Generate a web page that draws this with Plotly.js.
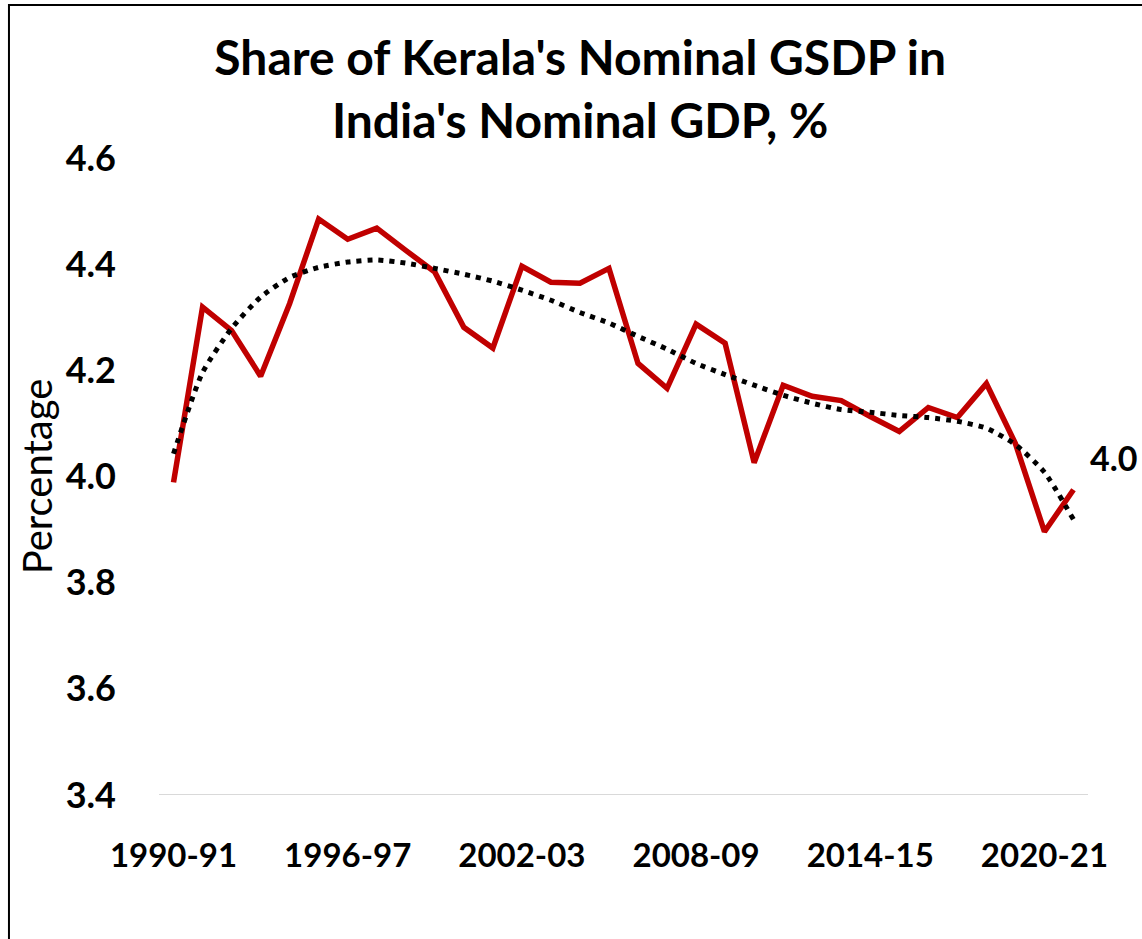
<!DOCTYPE html>
<html>
<head>
<meta charset="utf-8">
<script src="https://cdn.plot.ly/plotly-3.0.1.min.js"></script>
<style>
html,body{margin:0;padding:0;background:#fff;}
#chart{width:1142px;height:939px;}
</style>
</head>
<body>
<div id="chart"></div>
<script>
const years = ["1990-91","1991-92","1992-93","1993-94","1994-95","1995-96","1996-97","1997-98",
  "1998-99","1999-00","2000-01","2001-02","2002-03","2003-04","2004-05","2005-06",
  "2006-07","2007-08","2008-09","2009-10","2010-11","2011-12","2012-13","2013-14",
  "2014-15","2015-16","2016-17","2017-18","2018-19","2019-20","2020-21","2021-22"];
const share = [3.989,4.319,4.275,4.189,4.326,4.485,4.447,4.468,
  4.426,4.385,4.281,4.242,4.396,4.366,4.364,4.392,
  4.213,4.166,4.287,4.251,4.026,4.172,4.151,4.143,
  4.113,4.085,4.130,4.111,4.175,4.062,3.896,3.975];
const trend = [4.043,4.196,4.279,4.338,4.375,4.394,4.404,4.408,
  4.402,4.392,4.381,4.368,4.351,4.332,4.309,4.289,
  4.264,4.240,4.213,4.192,4.172,4.153,4.138,4.126,
  4.121,4.115,4.111,4.104,4.091,4.060,4.008,3.919];
const xTickLabels = ["1990-91","1996-97","2002-03","2008-09","2014-15","2020-21"];
const yTicks = [3.4,3.6,3.8,4.0,4.2,4.4,4.6];
const lastLabel = "4.0";

const FONT = "Lato, 'Open Sans', sans-serif";

const traces = [
  {
    x: years, y: share, type: "scatter", mode: "lines",
    line: {color: "#C00000", width: 5.5},
    hoverinfo: "x+y", showlegend: false
  },
  {
    x: years, y: trend, type: "scatter", mode: "lines",
    line: {color: "#000000", width: 5, dash: "5px,6px", shape: "spline", smoothing: 0.6},
    hoverinfo: "skip", showlegend: false
  }
];

const layout = {
  width: 1142, height: 939,
  paper_bgcolor: "#fff", plot_bgcolor: "#fff",
  margin: {l: 159, r: 54, t: 158, b: 144},
  font: {family: FONT, color: "#000"},
  title: {
    text: "<b>Share of Kerala's Nominal GSDP in<br>India's Nominal GDP, %</b>",
    font: {family: FONT, size: 48, color: "#000"},
    xref: "container", x: 0.508, xanchor: "center",
    yref: "container", y: 0.92, yanchor: "top"
  },
  xaxis: {
    type: "category",
    categoryorder: "array", categoryarray: years,
    range: [-0.5, 31.5],
    tickmode: "array", tickvals: xTickLabels, ticktext: xTickLabels.map(t => "<b>" + t + "</b>"),
    tickfont: {family: FONT, size: 33, color: "#000"},
    showgrid: false, zeroline: false, showline: false, ticks: "",
    ticklabelstandoff: 38
  },
  yaxis: {
    range: [3.4, 4.6],
    tickmode: "array", tickvals: yTicks, ticktext: yTicks.map(v => "<b>" + v.toFixed(1) + "</b>"),
    tickfont: {family: FONT, size: 36, color: "#000"},
    showgrid: false, zeroline: false, showline: false, ticks: "",
    ticklabelstandoff: 42,
    title: {text: "Percentage", font: {family: FONT, size: 40, color: "#000"}, standoff: 0}
  },
  shapes: [
    {type: "line", xref: "paper", yref: "y", x0: 0, x1: 1, y0: 3.4, y1: 3.4,
     line: {color: "#d9d9d9", width: 2}, layer: "below"},
    {type: "rect", xref: "paper", yref: "paper", x0: -0.1615, x1: 1.3, y0: 1.2402, y1: -0.6,
     line: {color: "#000", width: 2}, fillcolor: "rgba(0,0,0,0)"}
  ],
  annotations: [
    {xref: "paper", yref: "y", x: 1.0, y: 4.036, xanchor: "left", yanchor: "middle",
     text: "<b>" + lastLabel + "</b>", showarrow: false,
     font: {family: FONT, size: 34, color: "#000"}}
  ]
};

Plotly.newPlot("chart", traces, layout, {displayModeBar: false, staticPlot: true});
</script>
</body>
</html>
